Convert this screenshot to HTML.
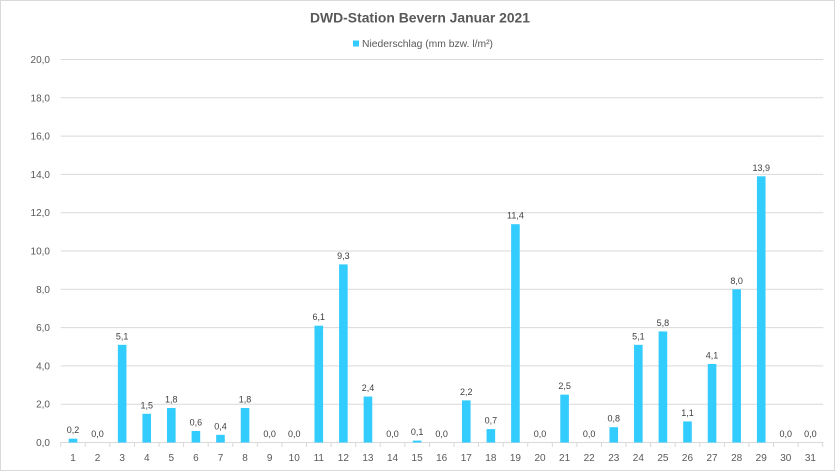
<!DOCTYPE html>
<html><head><meta charset="utf-8"><style>
html,body{margin:0;padding:0;background:#fff;}
svg{display:block;font-family:"Liberation Sans",Arial,sans-serif;}
</style></head><body>
<svg width="840" height="473" viewBox="0 0 840 473" xmlns="http://www.w3.org/2000/svg">
<rect x="0" y="0" width="840" height="473" fill="#fff"/>
<rect x="0.5" y="0.5" width="834" height="470" fill="#fff" stroke="#d9d9d9" stroke-width="1"/>
<text x="420" y="22.5" text-anchor="middle" font-size="14" font-weight="bold" fill="#595959" textLength="220" lengthAdjust="spacingAndGlyphs">DWD-Station  Bevern Januar 2021</text>
<rect x="353" y="40.5" width="6" height="6" fill="#33ccff"/>
<text x="362" y="47" font-size="10" fill="#595959" textLength="131" lengthAdjust="spacingAndGlyphs">Niederschlag (mm bzw. l/m²)</text>
<g stroke="#d9d9d9" stroke-width="1">
<line x1="60.7" x2="823.3" y1="59.5" y2="59.5"/>
<line x1="60.7" x2="823.3" y1="97.8" y2="97.8"/>
<line x1="60.7" x2="823.3" y1="136.1" y2="136.1"/>
<line x1="60.7" x2="823.3" y1="174.4" y2="174.4"/>
<line x1="60.7" x2="823.3" y1="212.7" y2="212.7"/>
<line x1="60.7" x2="823.3" y1="251" y2="251"/>
<line x1="60.7" x2="823.3" y1="289.3" y2="289.3"/>
<line x1="60.7" x2="823.3" y1="327.6" y2="327.6"/>
<line x1="60.7" x2="823.3" y1="365.9" y2="365.9"/>
<line x1="60.7" x2="823.3" y1="404.2" y2="404.2"/>
<line x1="60.7" x2="823.3" y1="442.5" y2="442.5"/>
</g>
<g stroke="#d9d9d9" stroke-width="1">
<line x1="60.7" x2="60.7" y1="442.5" y2="447"/><line x1="85.28" x2="85.28" y1="442.5" y2="447"/><line x1="109.86" x2="109.86" y1="442.5" y2="447"/><line x1="134.44" x2="134.44" y1="442.5" y2="447"/><line x1="159.02" x2="159.02" y1="442.5" y2="447"/><line x1="183.6" x2="183.6" y1="442.5" y2="447"/><line x1="208.18" x2="208.18" y1="442.5" y2="447"/><line x1="232.76" x2="232.76" y1="442.5" y2="447"/><line x1="257.34" x2="257.34" y1="442.5" y2="447"/><line x1="281.92" x2="281.92" y1="442.5" y2="447"/><line x1="306.5" x2="306.5" y1="442.5" y2="447"/><line x1="331.08" x2="331.08" y1="442.5" y2="447"/><line x1="355.66" x2="355.66" y1="442.5" y2="447"/><line x1="380.24" x2="380.24" y1="442.5" y2="447"/><line x1="404.82" x2="404.82" y1="442.5" y2="447"/><line x1="429.4" x2="429.4" y1="442.5" y2="447"/><line x1="453.98" x2="453.98" y1="442.5" y2="447"/><line x1="478.56" x2="478.56" y1="442.5" y2="447"/><line x1="503.14" x2="503.14" y1="442.5" y2="447"/><line x1="527.72" x2="527.72" y1="442.5" y2="447"/><line x1="552.3" x2="552.3" y1="442.5" y2="447"/><line x1="576.88" x2="576.88" y1="442.5" y2="447"/><line x1="601.46" x2="601.46" y1="442.5" y2="447"/><line x1="626.04" x2="626.04" y1="442.5" y2="447"/><line x1="650.62" x2="650.62" y1="442.5" y2="447"/><line x1="675.2" x2="675.2" y1="442.5" y2="447"/><line x1="699.78" x2="699.78" y1="442.5" y2="447"/><line x1="724.36" x2="724.36" y1="442.5" y2="447"/><line x1="748.94" x2="748.94" y1="442.5" y2="447"/><line x1="773.52" x2="773.52" y1="442.5" y2="447"/><line x1="798.1" x2="798.1" y1="442.5" y2="447"/><line x1="822.68" x2="822.68" y1="442.5" y2="447"/>
</g>
<g font-size="10" fill="#595959" text-anchor="end">
<text x="50" y="63">20,0</text>
<text x="50" y="101.3">18,0</text>
<text x="50" y="139.6">16,0</text>
<text x="50" y="177.9">14,0</text>
<text x="50" y="216.2">12,0</text>
<text x="50" y="254.5">10,0</text>
<text x="50" y="292.8">8,0</text>
<text x="50" y="331.1">6,0</text>
<text x="50" y="369.4">4,0</text>
<text x="50" y="407.7">2,0</text>
<text x="50" y="446">0,0</text>
</g>
<g fill="#33ccff">
<rect x="68.69" y="438.67" width="8.6" height="3.83"/>
<rect x="117.85" y="344.83" width="8.6" height="97.67"/>
<rect x="142.43" y="413.77" width="8.6" height="28.73"/>
<rect x="167.01" y="408.03" width="8.6" height="34.47"/>
<rect x="191.59" y="431.01" width="8.6" height="11.49"/>
<rect x="216.17" y="434.84" width="8.6" height="7.66"/>
<rect x="240.75" y="408.03" width="8.6" height="34.47"/>
<rect x="314.49" y="325.68" width="8.6" height="116.82"/>
<rect x="339.07" y="264.4" width="8.6" height="178.1"/>
<rect x="363.65" y="396.54" width="8.6" height="45.96"/>
<rect x="412.81" y="440.58" width="8.6" height="1.92"/>
<rect x="461.97" y="400.37" width="8.6" height="42.13"/>
<rect x="486.55" y="429.09" width="8.6" height="13.41"/>
<rect x="511.13" y="224.19" width="8.6" height="218.31"/>
<rect x="560.29" y="394.62" width="8.6" height="47.88"/>
<rect x="609.45" y="427.18" width="8.6" height="15.32"/>
<rect x="634.03" y="344.83" width="8.6" height="97.67"/>
<rect x="658.61" y="331.43" width="8.6" height="111.07"/>
<rect x="683.19" y="421.43" width="8.6" height="21.07"/>
<rect x="707.77" y="363.98" width="8.6" height="78.52"/>
<rect x="732.35" y="289.3" width="8.6" height="153.2"/>
<rect x="756.93" y="176.31" width="8.6" height="266.19"/>
</g>
<g font-size="9" fill="#404040" text-anchor="middle">
<text x="72.99" y="433.2">0,2</text>
<text x="97.57" y="437">0,0</text>
<text x="122.15" y="339.3">5,1</text>
<text x="146.73" y="408.3">1,5</text>
<text x="171.31" y="402.5">1,8</text>
<text x="195.89" y="425.5">0,6</text>
<text x="220.47" y="429.3">0,4</text>
<text x="245.05" y="402.5">1,8</text>
<text x="269.63" y="437">0,0</text>
<text x="294.21" y="437">0,0</text>
<text x="318.79" y="320.2">6,1</text>
<text x="343.37" y="258.9">9,3</text>
<text x="367.95" y="391">2,4</text>
<text x="392.53" y="437">0,0</text>
<text x="417.11" y="435.1">0,1</text>
<text x="441.69" y="437">0,0</text>
<text x="466.27" y="394.9">2,2</text>
<text x="490.85" y="423.6">0,7</text>
<text x="515.43" y="218.7">11,4</text>
<text x="540.01" y="437">0,0</text>
<text x="564.59" y="389.1">2,5</text>
<text x="589.17" y="437">0,0</text>
<text x="613.75" y="421.7">0,8</text>
<text x="638.33" y="339.3">5,1</text>
<text x="662.91" y="325.9">5,8</text>
<text x="687.49" y="415.9">1,1</text>
<text x="712.07" y="358.5">4,1</text>
<text x="736.65" y="283.8">8,0</text>
<text x="761.23" y="170.8">13,9</text>
<text x="785.81" y="437">0,0</text>
<text x="810.39" y="437">0,0</text>
</g>
<g font-size="10" fill="#595959" text-anchor="middle">
<text x="72.99" y="461">1</text>
<text x="97.57" y="461">2</text>
<text x="122.15" y="461">3</text>
<text x="146.73" y="461">4</text>
<text x="171.31" y="461">5</text>
<text x="195.89" y="461">6</text>
<text x="220.47" y="461">7</text>
<text x="245.05" y="461">8</text>
<text x="269.63" y="461">9</text>
<text x="294.21" y="461">10</text>
<text x="318.79" y="461">11</text>
<text x="343.37" y="461">12</text>
<text x="367.95" y="461">13</text>
<text x="392.53" y="461">14</text>
<text x="417.11" y="461">15</text>
<text x="441.69" y="461">16</text>
<text x="466.27" y="461">17</text>
<text x="490.85" y="461">18</text>
<text x="515.43" y="461">19</text>
<text x="540.01" y="461">20</text>
<text x="564.59" y="461">21</text>
<text x="589.17" y="461">22</text>
<text x="613.75" y="461">23</text>
<text x="638.33" y="461">24</text>
<text x="662.91" y="461">25</text>
<text x="687.49" y="461">26</text>
<text x="712.07" y="461">27</text>
<text x="736.65" y="461">28</text>
<text x="761.23" y="461">29</text>
<text x="785.81" y="461">30</text>
<text x="810.39" y="461">31</text>
</g>
</svg>
</body></html>
